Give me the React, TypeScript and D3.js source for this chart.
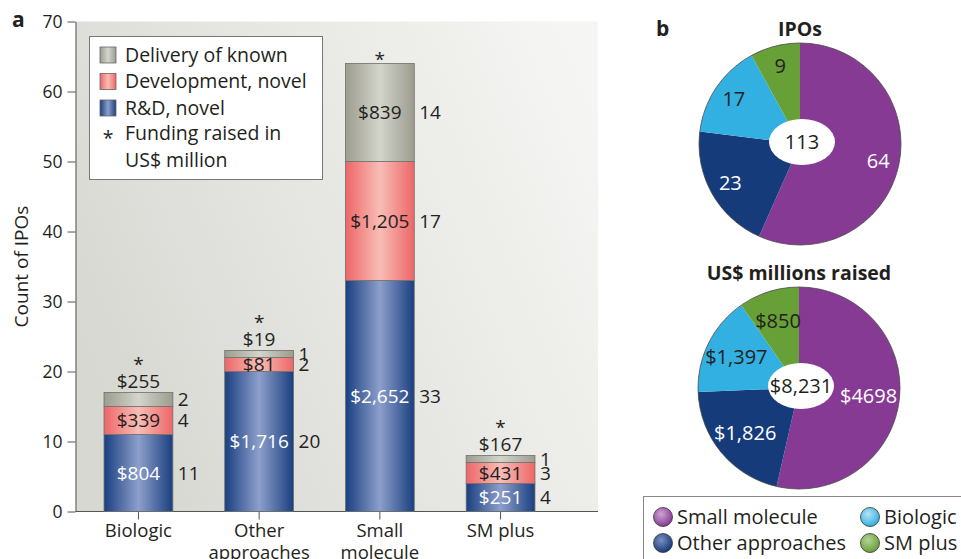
import { useRef, useEffect } from "react";
import * as d3 from "d3";

// Panel a: stacked bars
const categories = ["Biologic", "Other approaches", "Small molecule", "SM plus"];
const categoryLines = [["Biologic"], ["Other", "approaches"], ["Small", "molecule"], ["SM plus"]];
const rdCounts = [11, 20, 33, 4];
const devCounts = [4, 2, 17, 3];
const deliveryCounts = [2, 1, 14, 1];
const rdFunding = ["$804", "$1,716", "$2,652", "$251"];
const devFunding = ["$339", "$81", "$1,205", "$431"];
const deliveryFunding = ["$255", "$19", "$839", "$167"];
const yTicks = [0, 10, 20, 30, 40, 50, 60, 70];
const barLegend = ["Delivery of known", "Development, novel", "R&D, novel"];

// Panel b: pies
const pieCategories = ["Small molecule", "Other approaches", "Biologic", "SM plus"];
const ipoCounts = [64, 23, 17, 9];
const ipoLabels = ["64", "23", "17", "9"];
const ipoTotal = "113";
const fundsRaised = [4698, 1826, 1397, 850];
const fundsLabels = ["$4698", "$1,826", "$1,397", "$850"];
const fundsTotal = "$8,231";

const W = 961;
const H = 559;
const FONT = "'Open Sans', 'Noto Sans', sans-serif";
const INK = "#231f20";

export default function App() {
  const ref = useRef<SVGSVGElement>(null);

  useEffect(() => {
    if (!ref.current) return;
    const svg = d3.select(ref.current);
    svg.selectAll("*").remove();
    svg.style("font-family", FONT);

    const defs = svg.append("defs");

    // bar gradients (dark edges, light middle)
    const barGrad = (id: string, edge: string, mid: string) => {
      const g = defs.append("linearGradient").attr("id", id).attr("x1", 0).attr("x2", 1).attr("y1", 0).attr("y2", 0);
      g.append("stop").attr("offset", "0%").attr("stop-color", edge);
      g.append("stop").attr("offset", "50%").attr("stop-color", mid);
      g.append("stop").attr("offset", "100%").attr("stop-color", edge);
    };
    barGrad("g-rd", "#1a3f80", "#8d9fcb");
    barGrad("g-dev", "#ee6668", "#f8bdb6");
    barGrad("g-del", "#9c9d8e", "#d3d4cb");

    const bg = defs.append("linearGradient").attr("id", "g-bg").attr("x1", 0).attr("x2", 1).attr("y1", 0.6).attr("y2", 0.2);
    bg.append("stop").attr("offset", "0%").attr("stop-color", "#d8d8d3");
    bg.append("stop").attr("offset", "100%").attr("stop-color", "#f5f5f3");

    // ---------- panel a ----------
    const y = d3.scaleLinear().domain([0, 70]).range([511.5, 21.5]);
    const x = d3
      .scaleBand<string>()
      .domain(categories)
      .range([77, 562])
      .paddingInner(0.43)
      .paddingOuter(0.224);
    const axisX = 75.5;
    const plotRight = 598;

    svg
      .append("rect")
      .attr("x", axisX)
      .attr("y", y(70))
      .attr("width", plotRight - axisX)
      .attr("height", y(0) - y(70))
      .attr("fill", "url(#g-bg)");

    const yAxis = svg
      .append("g")
      .attr("transform", `translate(${axisX},0)`)
      .call(d3.axisLeft(y).tickValues(yTicks).tickSize(8).tickSizeOuter(0).tickPadding(5));
    yAxis.selectAll("path,line").attr("stroke", "#555");
    yAxis.selectAll("text").attr("font-size", 17.5).attr("fill", INK).attr("font-family", FONT);

    const xAxis = svg
      .append("g")
      .attr("transform", `translate(0,${y(0)})`)
      .call(d3.axisBottom(x).tickSize(8).tickSizeOuter(0).tickFormat(() => ""));
    xAxis.select(".domain").remove();
    xAxis.selectAll("line").attr("stroke", "#555");
    svg
      .append("line")
      .attr("x1", axisX)
      .attr("x2", plotRight)
      .attr("y1", y(0))
      .attr("y2", y(0))
      .attr("stroke", "#555");

    categories.forEach((c, i) => {
      const cx = (x(c) as number) + x.bandwidth() / 2;
      categoryLines[i].forEach((ln, j) => {
        svg
          .append("text")
          .attr("x", cx)
          .attr("y", 537 + j * 22)
          .attr("text-anchor", "middle")
          .attr("font-size", 18.5)
          .attr("fill", INK)
          .text(ln);
      });
    });

    svg
      .append("text")
      .attr("transform", `translate(28,${y(35)}) rotate(-90)`)
      .attr("text-anchor", "middle")
      .attr("font-size", 19)
      .attr("fill", INK)
      .text("Count of IPOs");

    svg.append("text").attr("x", 12).attr("y", 27).attr("font-size", 21).attr("font-weight", "bold").attr("fill", INK).text("a");

    // stacked segments
    const layers = [
      { counts: rdCounts, funding: rdFunding, fill: "url(#g-rd)", textFill: "#fff" },
      { counts: devCounts, funding: devFunding, fill: "url(#g-dev)", textFill: INK },
      { counts: deliveryCounts, funding: deliveryFunding, fill: "url(#g-del)", textFill: INK },
    ];
    const LBL = 19;

    categories.forEach((c, i) => {
      const bx = x(c) as number;
      const bw = x.bandwidth();
      let base = 0;
      layers.forEach((L, li) => {
        const v = L.counts[i];
        const y0 = y(base);
        const y1 = y(base + v);
        svg
          .append("rect")
          .attr("x", bx)
          .attr("y", y1)
          .attr("width", bw)
          .attr("height", y0 - y1)
          .attr("fill", L.fill)
          .attr("stroke", "#6f6f6a")
          .attr("stroke-width", 0.8);
        const mid = (y0 + y1) / 2;
        // count to the right
        svg
          .append("text")
          .attr("x", bx + bw + 5)
          .attr("y", mid)
          .attr("dy", "0.35em")
          .attr("font-size", LBL)
          .attr("fill", INK)
          .text(v);
        const isTop = li === layers.length - 1;
        const small = y0 - y1 < 20;
        if (isTop && small) {
          svg
            .append("text")
            .attr("x", bx + bw / 2)
            .attr("y", y1 - 11)
            .attr("dy", "0.35em")
            .attr("text-anchor", "middle")
            .attr("font-size", LBL)
            .attr("fill", INK)
            .text(L.funding[i]);
          svg
            .append("text")
            .attr("x", bx + bw / 2)
            .attr("y", y1 - 28)
            .attr("dy", "0.35em")
            .attr("text-anchor", "middle")
            .attr("font-size", LBL)
            .attr("fill", INK)
            .text("*");
        } else {
          svg
            .append("text")
            .attr("x", bx + bw / 2)
            .attr("y", mid)
            .attr("dy", "0.35em")
            .attr("text-anchor", "middle")
            .attr("font-size", LBL)
            .attr("fill", L.textFill)
            .text(L.funding[i]);
          if (isTop) {
            svg
              .append("text")
              .attr("x", bx + bw / 2)
              .attr("y", y1 - 4)
              .attr("dy", "0.35em")
              .attr("text-anchor", "middle")
              .attr("font-size", LBL)
              .attr("fill", INK)
              .text("*");
          }
        }
        base += v;
      });
    });

    // legend panel a
    const lg = svg.append("g");
    const LF = 19.5;
    lg.append("rect").attr("x", 89.5).attr("y", 36.5).attr("width", 233).attr("height", 143).attr("fill", "#fff").attr("stroke", "#777");
    const legendFills = ["url(#g-del)", "url(#g-dev)", "url(#g-rd)"];
    barLegend.forEach((t, i) => {
      const cy = 55 + i * 26.5;
      lg.append("rect").attr("x", 100).attr("y", cy - 8).attr("width", 16).attr("height", 16).attr("fill", legendFills[i]).attr("stroke", "#666").attr("stroke-width", 0.8);
      lg.append("text").attr("x", 125).attr("y", cy).attr("dy", "0.35em").attr("font-size", LF).attr("fill", INK).text(t);
    });
    lg.append("text").attr("x", 108).attr("y", 138).attr("dy", "0.35em").attr("text-anchor", "middle").attr("font-size", LF).attr("fill", INK).text("*");
    lg.append("text").attr("x", 125).attr("y", 133).attr("dy", "0.35em").attr("font-size", LF).attr("fill", INK).text("Funding raised in");
    lg.append("text").attr("x", 125).attr("y", 160).attr("dy", "0.35em").attr("font-size", LF).attr("fill", INK).text("US$ million");

    // ---------- panel b ----------
    const pieColors = [
      { edge: "#873a94", mid: "#cda6d2" },
      { edge: "#163b7b", mid: "#7a90c0" },
      { edge: "#31b0e1", mid: "#b8e3f5" },
      { edge: "#67a036", mid: "#b5d397" },
    ];
    const R = 101;

    const drawPie = (
      id: string,
      cx: number,
      cy: number,
      values: number[],
      labels: string[],
      total: string,
      title: string,
      labelFills: string[],
      labelR: number
    ) => {
      pieColors.forEach((pc, k) => {
        const rg = defs
          .append("radialGradient")
          .attr("id", `${id}-${k}`)
          .attr("gradientUnits", "userSpaceOnUse")
          .attr("cx", cx)
          .attr("cy", cy)
          .attr("r", R);
        rg.append("stop").attr("offset", "0%").attr("stop-color", pc.mid);
        rg.append("stop").attr("offset", "55%").attr("stop-color", d3.interpolateRgb(pc.mid, pc.edge)(0.55));
        rg.append("stop").attr("offset", "100%").attr("stop-color", pc.edge);
      });
      const pie = d3.pie<number>().sort(null).value((d) => d);
      const arcs = pie(values);
      const arc = d3.arc<d3.PieArcDatum<number>>().innerRadius(0).outerRadius(R);
      const labelArc = d3.arc<d3.PieArcDatum<number>>().innerRadius(labelR).outerRadius(labelR);
      const g = svg.append("g").attr("transform", `translate(${cx},${cy})`);
      g.selectAll("path")
        .data(arcs)
        .join("path")
        .attr("d", arc)
        .attr("fill", (_d, k) => `url(#${id}-${k})`);
      g.append("circle").attr("r", R).attr("fill", "none").attr("stroke", "#4a4a4a").attr("stroke-width", 0.8);
      g.selectAll("text.lbl")
        .data(arcs)
        .join("text")
        .attr("class", "lbl")
        .attr("transform", (d) => `translate(${labelArc.centroid(d)})`)
        .attr("dy", "0.35em")
        .attr("text-anchor", "middle")
        .attr("font-size", 20)
        .attr("fill", (_d, k) => labelFills[k])
        .text((_d, k) => labels[k]);
      g.append("ellipse").attr("cx", 2).attr("cy", -2).attr("rx", 33).attr("ry", 23).attr("fill", "#fff");
      g.append("text").attr("x", 2).attr("y", -2).attr("dy", "0.35em").attr("text-anchor", "middle").attr("font-size", 20).attr("fill", INK).text(total);
      svg
        .append("text")
        .attr("x", cx)
        .attr("y", cy - R - 7)
        .attr("text-anchor", "middle")
        .attr("font-size", 19.5)
        .attr("font-weight", "bold")
        .attr("fill", INK)
        .text(title);
    };

    drawPie("p1", 800, 144, ipoCounts, ipoLabels, ipoTotal, "IPOs", ["#fff", "#fff", INK, INK], 80);
    drawPie("p2", 799, 388, fundsRaised, fundsLabels, fundsTotal, "US$ millions raised", ["#fff", "#fff", INK, INK], 70);

    svg.append("text").attr("x", 656).attr("y", 36).attr("font-size", 21).attr("font-weight", "bold").attr("fill", INK).text("b");

    // legend panel b
    const pl = svg.append("g");
    pl.append("rect").attr("x", 643.5).attr("y", 496.5).attr("width", 330).attr("height", 80).attr("fill", "#fff").attr("stroke", "#888");
    pieColors.forEach((pc, k) => {
      const rg = defs.append("radialGradient").attr("id", `lg-${k}`).attr("cx", "40%").attr("cy", "35%").attr("r", "65%");
      rg.append("stop").attr("offset", "0%").attr("stop-color", pc.mid);
      rg.append("stop").attr("offset", "100%").attr("stop-color", pc.edge);
    });
    const legendPos = [
      [663, 517],
      [663, 543],
      [870, 517],
      [870, 543],
    ];
    pieCategories.forEach((c, k) => {
      const [lx, ly] = legendPos[k];
      pl.append("circle").attr("cx", lx).attr("cy", ly).attr("r", 9.5).attr("fill", `url(#lg-${k})`).attr("stroke", "#333").attr("stroke-width", 0.8);
      pl.append("text").attr("x", lx + 14).attr("y", ly).attr("dy", "0.35em").attr("font-size", 20).attr("fill", INK).text(c);
    });
  }, []);

  return (
    <svg
      ref={ref}
      width={W}
      height={H}
      style={{ position: "absolute", left: 0, top: 0, background: "#fff" }}
    />
  );
}
